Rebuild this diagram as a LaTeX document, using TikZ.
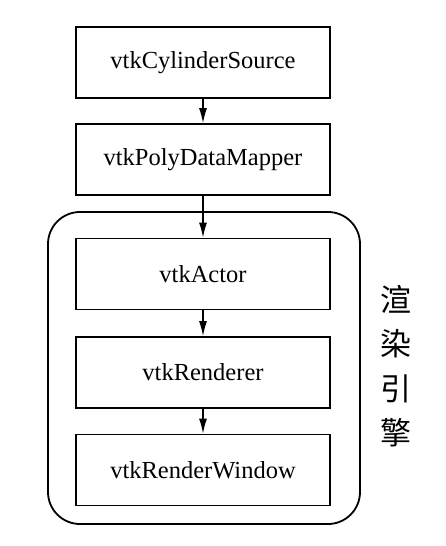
\documentclass[tikz,border=0pt]{standalone}
\usepackage{fontspec}
\setmainfont{Liberation Serif}
\newfontfamily\cjk{Noto Sans CJK SC}
\usetikzlibrary{positioning, arrows.meta}
\tikzset{%
  block/.style    = {draw, line width = 1.8pt, rectangle, minimum height = 71pt,
    minimum width = 254pt, font = \fontsize{24.5}{28}\selectfont},
  engine/.style   = {draw, line width = 1.8pt, rounded corners = 32pt,
    minimum width = 312pt, minimum height = 312pt}, % container
  flow/.style     = {-{Latex[length = 15pt, width = 8pt]}, line width = 1.3pt}
}

\begin{document}
\begin{tikzpicture}[x = 1pt, y = -1pt]
\useasboundingbox (0,0) rectangle (446,546);
% container
\node [engine] (box) at (204,368) {};
% blocks
\draw
	(203,62.5) node [block] (src) {vtkCylinderSource}
	(203,159.5) node [block] (map) {vtkPolyDataMapper}
	(203,274) node [block] (act) {vtkActor}
	(203,372.5) node [block] (ren) {vtkRenderer}
	(203,470) node [block] (win) {vtkRenderWindow};
% pipeline lines
\draw[flow] (src) -- (map);
\draw[flow] (map) -- (act);
\draw[flow] (act) -- (ren);
\draw[flow] (ren) -- (win);
% engine label
\node [align = center, font = \cjk\fontsize{31}{44.5}\selectfont] (lbl) at (396,366) {渲\\染\\引\\擎};
\end{tikzpicture}
\end{document}
